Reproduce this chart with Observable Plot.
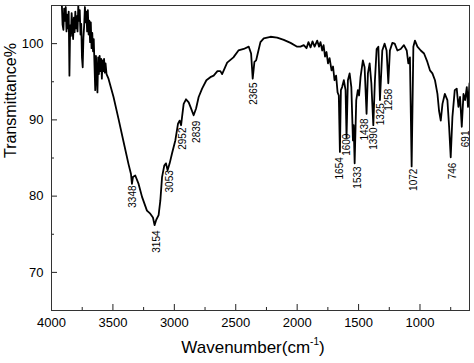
<!DOCTYPE html>
<html><head><meta charset="utf-8">
<script src="https://cdn.jsdelivr.net/npm/d3@7"></script>
<script src="https://cdn.jsdelivr.net/npm/@observablehq/plot@0.6"></script>
<style>body{margin:0;background:#fff}</style>
</head><body><div id="chart"></div>
<script>
const wavenumber = [
3916,3910,3903,3897,3890,3884,3878,3872,3866,3860,3854,3848,3842,3836,3830,3824,3818,3812,3806,3800,
3794,3788,3782,3776,3770,3764,3758,3752,3746,3740,3734,3728,3722,3716,3710,3704,3698,3692,3686,3680,
3674,3668,3662,3656,3650,3644,3638,3632,3626,3620,3614,3608,3602,3596,3590,3584,3578,3572,3566,3560,
3552,3536,3495,3454,3413,3373,3353,3345,3337,3318,3291,3263,3223,3196,3174,3161,3147,3128,3114,3100,
3082,3068,3055,3038,3019,2992,2970,2957,2945,2937,2924,2905,2883,2864,2843,2823,2802,2774,2739,2707,
2680,2649,2625,2611,2570,2519,2478,2435,2394,2375,2362,2348,2334,2321,2299,2272,2217,2163,2109,2054,
2000,1973,1946,1924,1908,1891,1875,1858,1837,1822,1810,1796,1785,1773,1761,1749,1736,1720,1708,1696,
1683,1671,1661,1652,1644,1634,1620,1606,1598,1587,1573,1559,1546,1540,1532,1519,1506,1496,1484,1465,
1451,1435,1424,1410,1396,1380,1367,1353,1339,1326,1307,1288,1272,1258,1245,1225,1206,1184,1157,1131,
1108,1095,1082,1068,1054,1041,1021,994,967,940,919,899,878,858,845,831,817,798,777,763,
750,736,717,701,687,674,660,646,633,619,609,597
];
const transmittance = [
105.3,102.5,101.8,104.6,103.0,104.8,101.6,103.8,102.0,104.2,95.8,102.4,101.0,104.0,102.2,100.6,103.4,101.5,104.2,102.0,
103.6,101.6,105.0,103.0,104.4,101.2,102.6,98.2,96.9,100.8,102.4,104.8,102.8,104.2,101.6,104.4,101.2,103.0,100.2,102.8,
99.4,101.4,99.0,100.6,97.2,93.9,98.4,96.0,93.6,98.2,96.0,98.4,96.4,98.0,95.4,97.8,96.4,98.0,96.2,97.4,
96.0,95.4,93.0,90.1,87.1,84.2,82.9,81.6,82.5,82.7,81.6,79.9,78.1,77.7,77.2,76.2,76.9,77.5,79.4,82.5,
84.0,84.3,83.4,84.3,85.6,87.3,89.5,89.9,89.3,90.4,92.1,92.7,92.3,91.5,90.6,91.5,93.0,94.1,95.2,95.6,
95.8,96.4,96.4,96.0,97.5,98.2,99.1,99.3,99.6,98.7,95.4,97.6,97.8,98.7,100.2,100.7,100.9,100.8,100.5,100.1,
99.6,99.6,99.8,99.4,100.2,99.5,100.3,99.6,100.4,99.6,100.2,99.1,99.8,98.3,98.9,97.4,98.1,96.5,97.0,95.2,
95.8,93.6,93.2,85.8,93.9,94.3,95.2,93.9,87.7,95.2,96.1,94.3,87.3,89.3,84.3,92.6,93.9,93.2,95.6,97.8,
96.9,90.8,96.1,97.4,94.8,89.3,95.2,99.3,99.6,92.6,99.1,100.0,99.1,94.8,99.1,100.1,100.0,99.1,99.3,99.8,
99.1,97.4,98.2,83.9,99.6,100.4,99.6,99.1,98.7,97.6,96.5,96.1,95.2,93.4,91.2,89.9,92.1,93.4,92.6,89.1,
85.1,90.4,93.9,94.1,91.7,93.0,89.1,93.4,92.6,94.3,91.7,94.8
];
const peakLabels = ["3348","3154","3053","2952","2839","2365","1654","1600","1533","1438","1390","1325","1258","1072","746","691"];
const peakLabelX = [3338,3143,3033,2931,2821,2356,1655,1594,1508,1451,1373,1320,1251,1051,733,631];
const peakLabelY = [81.4,75.5,83.4,89.0,89.9,94.9,85.1,88.2,83.9,90.2,89.0,92.2,94.1,83.6,84.4,88.6];
const xTicks = [4000,3500,3000,2500,2000,1500,1000];
const xMinorTicks = [3750,3250,2750,2250,1750,1250,750];
const yTicks = [70,80,90,100];
const yMinorTicks = [75,85,95];
const yTitle = "Transmittance%";

const spectrum = wavenumber.map((w, i) => ({w, t: transmittance[i]}));
const peaks = peakLabels.map((s, i) => ({s, x: peakLabelX[i], y: peakLabelY[i]}));

const font = "'Liberation Sans', Arial, sans-serif";
const chart = Plot.plot({
  width: 474, height: 363,
  marginLeft: 51, marginRight: 5, marginTop: 5, marginBottom: 53,
  style: {fontFamily: font, fontSize: "13px", color: "#000", background: "#fff"},
  x: {domain: [4000, 597]},
  y: {domain: [65, 105]},
  marks: [
    Plot.ruleX(xTicks, {insetTop: 299, stroke: "#222"}),
    Plot.ruleX(xMinorTicks, {insetTop: 302, stroke: "#222"}),
    Plot.ruleY(yTicks, {insetRight: 412, stroke: "#222"}),
    Plot.ruleY(yMinorTicks, {insetRight: 415, stroke: "#222"}),
    Plot.axisX(xTicks, {tickSize: 0, tickPadding: 7, label: null, fontSize: 13, tickFormat: d => String(d)}),
    Plot.axisY(yTicks, {tickSize: 0, tickPadding: 8, label: null, fontSize: 13, tickFormat: d => String(d)}),
    Plot.line(spectrum, {x: "w", y: "t", stroke: "#000", strokeWidth: 1.8, clip: true}),
    Plot.text(peaks, {x: "x", y: "y", text: "s", rotate: -90, textAnchor: "end", lineAnchor: "middle", fontSize: 10, fill: "#000"}),
    Plot.text([yTitle], {text: d => d, frameAnchor: "left", dx: -41, rotate: -90, fontSize: 16, fill: "#000"}),
    Plot.frame({stroke: "#333"})
  ]
});
const svg = d3.select(chart);
const t = svg.append("text")
  .attr("x", 253).attr("y", 353)
  .attr("text-anchor", "middle")
  .attr("font-family", font).attr("font-size", 17).attr("fill", "#000");
t.append("tspan").text("Wavenumber(cm");
t.append("tspan").attr("dy", -8).attr("font-size", 10).text("-1");
t.append("tspan").attr("dy", 8).text(")");
document.getElementById("chart").appendChild(chart);
</script>
</body></html>
